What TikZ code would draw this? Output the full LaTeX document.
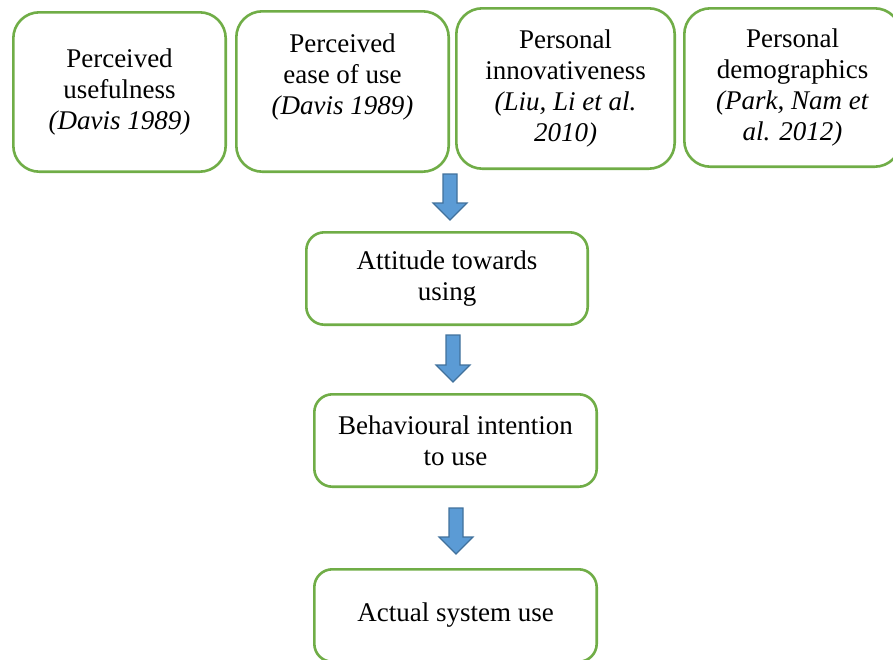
\documentclass[tikz,border=0pt]{standalone}
\usepackage{fontspec}
\setmainfont{Liberation Serif}
\usetikzlibrary{calc}
\definecolor{boxgreen}{HTML}{70AD47}
\definecolor{arrowfill}{HTML}{5B9BD5}
\definecolor{arrowline}{HTML}{41719C}

\begin{document}
\begin{tikzpicture}[x=1pt,y=-1pt,
  topbox/.style={rectangle, draw=boxgreen, line width=2.6pt, rounded corners=26pt,
    inner sep=0pt, align=center, font=\fontsize{27}{31}\selectfont, text=black},
  flowbox/.style={topbox, rounded corners=18pt},
  % downward block arrow from the start coordinate to the tip coordinate
  blockarrow/.style={fill=arrowfill, draw=arrowline, line width=1.2pt, line join=miter,
    to path={($(\tikztostart)+(-7,0)$) -- ($(\tikztotarget)+(-7,-17)$)
      -- ($(\tikztotarget)+(-17,-17)$) -- (\tikztotarget)
      -- ($(\tikztotarget)+(17,-17)$) -- ($(\tikztotarget)+(7,-17)$)
      -- ($(\tikztostart)+(7,0)$) -- cycle}}]

\useasboundingbox (0,0) rectangle (893,659);
\clip (0,0) rectangle (893,659);

% top row of influencing factors
\node[topbox, minimum width=212.4pt, minimum height=159.4pt] (b1) at (119.5,92)
  {Perceived\\usefulness\\\textit{(Davis 1989)}};
% extra depth lifts this text towards the top of its box
\node[topbox, minimum width=212.4pt, minimum height=160.4pt, text depth=34pt] (b2) at (342.5,91.5)
  {Perceived\\ease of use\\\textit{(Davis 1989)}};
\node[topbox, minimum width=218.4pt, minimum height=160.4pt] (b3) at (565.5,88.5)
  {Personal\\innovativeness\\\textit{(Liu, Li et al.}\\\textit{2010)}};
\node[topbox, minimum width=216.4pt, minimum height=158.4pt] (b4) at (792.5,87.5)
  {Personal\\demographics\\\textit{(Park, Nam et}\\\textit{al. 2012)}};

% main flow
\node[flowbox, minimum width=281.4pt, minimum height=92.4pt] (b5) at (447,278.5)
  {Attitude towards\\using};
\node[flowbox, minimum width=282.4pt, minimum height=92.4pt] (b6) at (455.5,440.5)
  {Behavioural intention\\to use};
\node[flowbox, minimum width=282.4pt, minimum height=92.4pt] (b7) at (455.5,615.5)
  {Actual system use};

% arrow end points
\coordinate (a1s) at (450,174);
\coordinate (a1e) at (450,220);
\coordinate (a2s) at (453,335);
\coordinate (a2e) at (453,382);
\coordinate (a3s) at (456,508);
\coordinate (a3e) at (456,554);

\draw[blockarrow] (a1s) to (a1e);
\draw[blockarrow] (a2s) to (a2e);
\draw[blockarrow] (a3s) to (a3e);
\end{tikzpicture}
\end{document}
